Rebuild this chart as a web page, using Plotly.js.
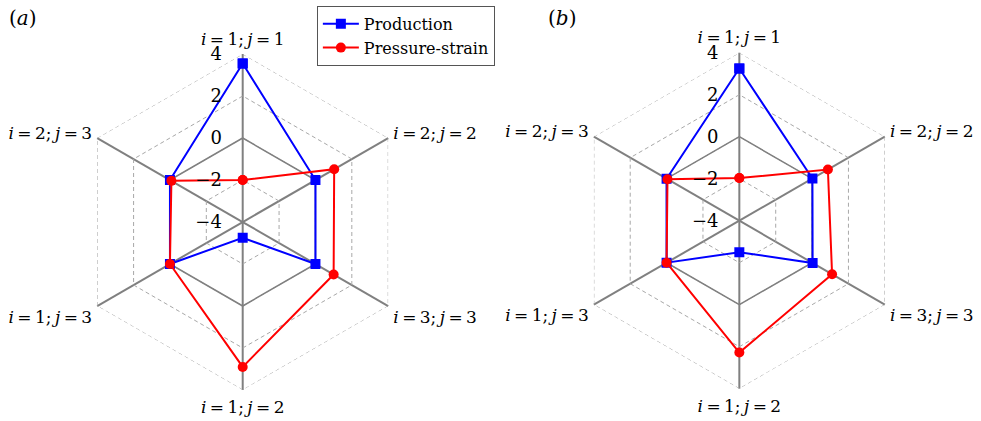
<!DOCTYPE html>
<html>
<head>
<meta charset="utf-8">
<script src="https://cdn.plot.ly/plotly-3.0.1.min.js"></script>
<style>html,body{margin:0;padding:0;background:#fff;}#chart{width:981px;height:421px;}</style>
</head>
<body>
<div id="chart"></div>
<script>
// categories (clockwise from top)
const categories = ['11', '22', '33', '12', '13', '23'];
const categoryLabels = [
  '<i>i</i>\u2009=\u20091;\u2009<i>j</i>\u2009=\u20091',
  '<i>i</i>\u2009=\u20092;\u2009<i>j</i>\u2009=\u20092',
  '<i>i</i>\u2009=\u20093;\u2009<i>j</i>\u2009=\u20093',
  '<i>i</i>\u2009=\u20091;\u2009<i>j</i>\u2009=\u20092',
  '<i>i</i>\u2009=\u20091;\u2009<i>j</i>\u2009=\u20093',
  '<i>i</i>\u2009=\u20092;\u2009<i>j</i>\u2009=\u20093'
];
// panel (a)
const productionA = [3.55, 0.0, 0.0, -3.25, 0.0, 0.0];
const pressureStrainA = [-2.0, 1.03, 1.0, 2.9, 0.0, -0.08];
// panel (b)
const productionB = [3.25, 0.02, 0.03, -2.5, 0.0, 0.0];
const pressureStrainB = [-1.97, 0.87, 1.1, 2.28, 0.0, -0.05];
// radial ticks
const radialTicks = [-4, -2, 0, 2, 4];
const radialTickText = ['\u22124', '\u22122', '0', '2', '4'];
const zeroRing = [0, 0, 0, 0, 0, 0];
const outerRing = [4, 4, 4, 4, 4, 4];

const FONT = 'DejaVu Serif';
const close = a => a.concat([a[0]]);
const thetaC = close(categories);

function ringTrace(sub, r, color, dash) {
  return {type: 'scatterpolar', subplot: sub, r: close(r), theta: thetaC, cliponaxis: false,
    mode: 'lines', line: {color: color, width: dash ? 1 : 1.5, dash: dash || 'solid'},
    showlegend: false, hoverinfo: 'skip'};
}
function seriesTrace(sub, r, name, color, symbol, show) {
  return {type: 'scatterpolar', subplot: sub, r: close(r), theta: thetaC, name: name,
    mode: 'lines+markers', cliponaxis: true, line: {color: color, width: 2},
    marker: {color: color, symbol: symbol, size: 10}, showlegend: show, legendgroup: name};
}

const data = [
  ringTrace('polar', zeroRing, '#808080'),
  ringTrace('polar', outerRing, '#a8a8a8', '4px,3px'),
  seriesTrace('polar', productionA, 'Production', '#0000ff', 'square', true),
  seriesTrace('polar', pressureStrainA, 'Pressure-strain', '#ff0000', 'circle', true),
  ringTrace('polar2', zeroRing, '#808080'),
  ringTrace('polar2', outerRing, '#a8a8a8', '4px,3px'),
  seriesTrace('polar2', productionB, 'Production', '#0000ff', 'square', false),
  seriesTrace('polar2', pressureStrainB, 'Pressure-strain', '#ff0000', 'circle', false)
];

function polarCfg(xd, yd) {
  return {
    domain: {x: xd, y: yd},
    gridshape: 'linear',
    bgcolor: 'rgba(0,0,0,0)',
    radialaxis: {
      range: [-4, 4], tickmode: 'array', tickvals: radialTicks, ticktext: radialTickText,
      angle: 90, tickangle: 90, side: 'counterclockwise', showline: false,
      ticks: 'outside', ticklen: 14, tickcolor: 'rgba(0,0,0,0)',
      gridcolor: '#a8a8a8', griddash: '4px,3px', gridwidth: 1,
      tickfont: {family: FONT, size: 18, color: '#000'}
    },
    angularaxis: {
      type: 'category', categoryorder: 'array', categoryarray: categories,
      tickmode: 'array', tickvals: categories, ticktext: categoryLabels,
      direction: 'clockwise', rotation: 90,
      showline: false, ticks: 'outside', ticklen: 2, tickcolor: 'rgba(0,0,0,0)',
      gridcolor: '#808080', gridwidth: 1.5,
      tickfont: {family: FONT, size: 17, color: '#000'}
    }
  };
}

const layout = {
  width: 981, height: 421,
  margin: {l: 0, r: 0, t: 0, b: 0},
  paper_bgcolor: '#fff',
  font: {family: FONT, size: 17, color: '#000'},
  polar: polarCfg([0.0761, 0.4187], [0.0736, 0.8717]),
  polar2: polarCfg([0.5824, 0.9249], [0.0767, 0.8748]),
  showlegend: true,
  legend: {
    x: 0.323, y: 0.986, xanchor: 'left', yanchor: 'top',
    bordercolor: '#555', borderwidth: 1, bgcolor: '#fff',
    font: {family: FONT, size: 16, color: '#000'},
    itemwidth: 36, tracegroupgap: 0, entrywidth: 170
  },
  annotations: [
    {text: '(<i>a</i>)', x: 7, y: 18},
    {text: '(<i>b</i>)', x: 546, y: 18}
  ].map(a => ({text: a.text, xref: 'paper', yref: 'paper', x: a.x / 981, y: 1 - a.y / 421,
    xanchor: 'left', yanchor: 'middle', showarrow: false,
    font: {family: FONT, size: 20, color: '#000'}}))
};

Plotly.newPlot('chart', data, layout, {displayModeBar: false});
</script>
</body>
</html>
